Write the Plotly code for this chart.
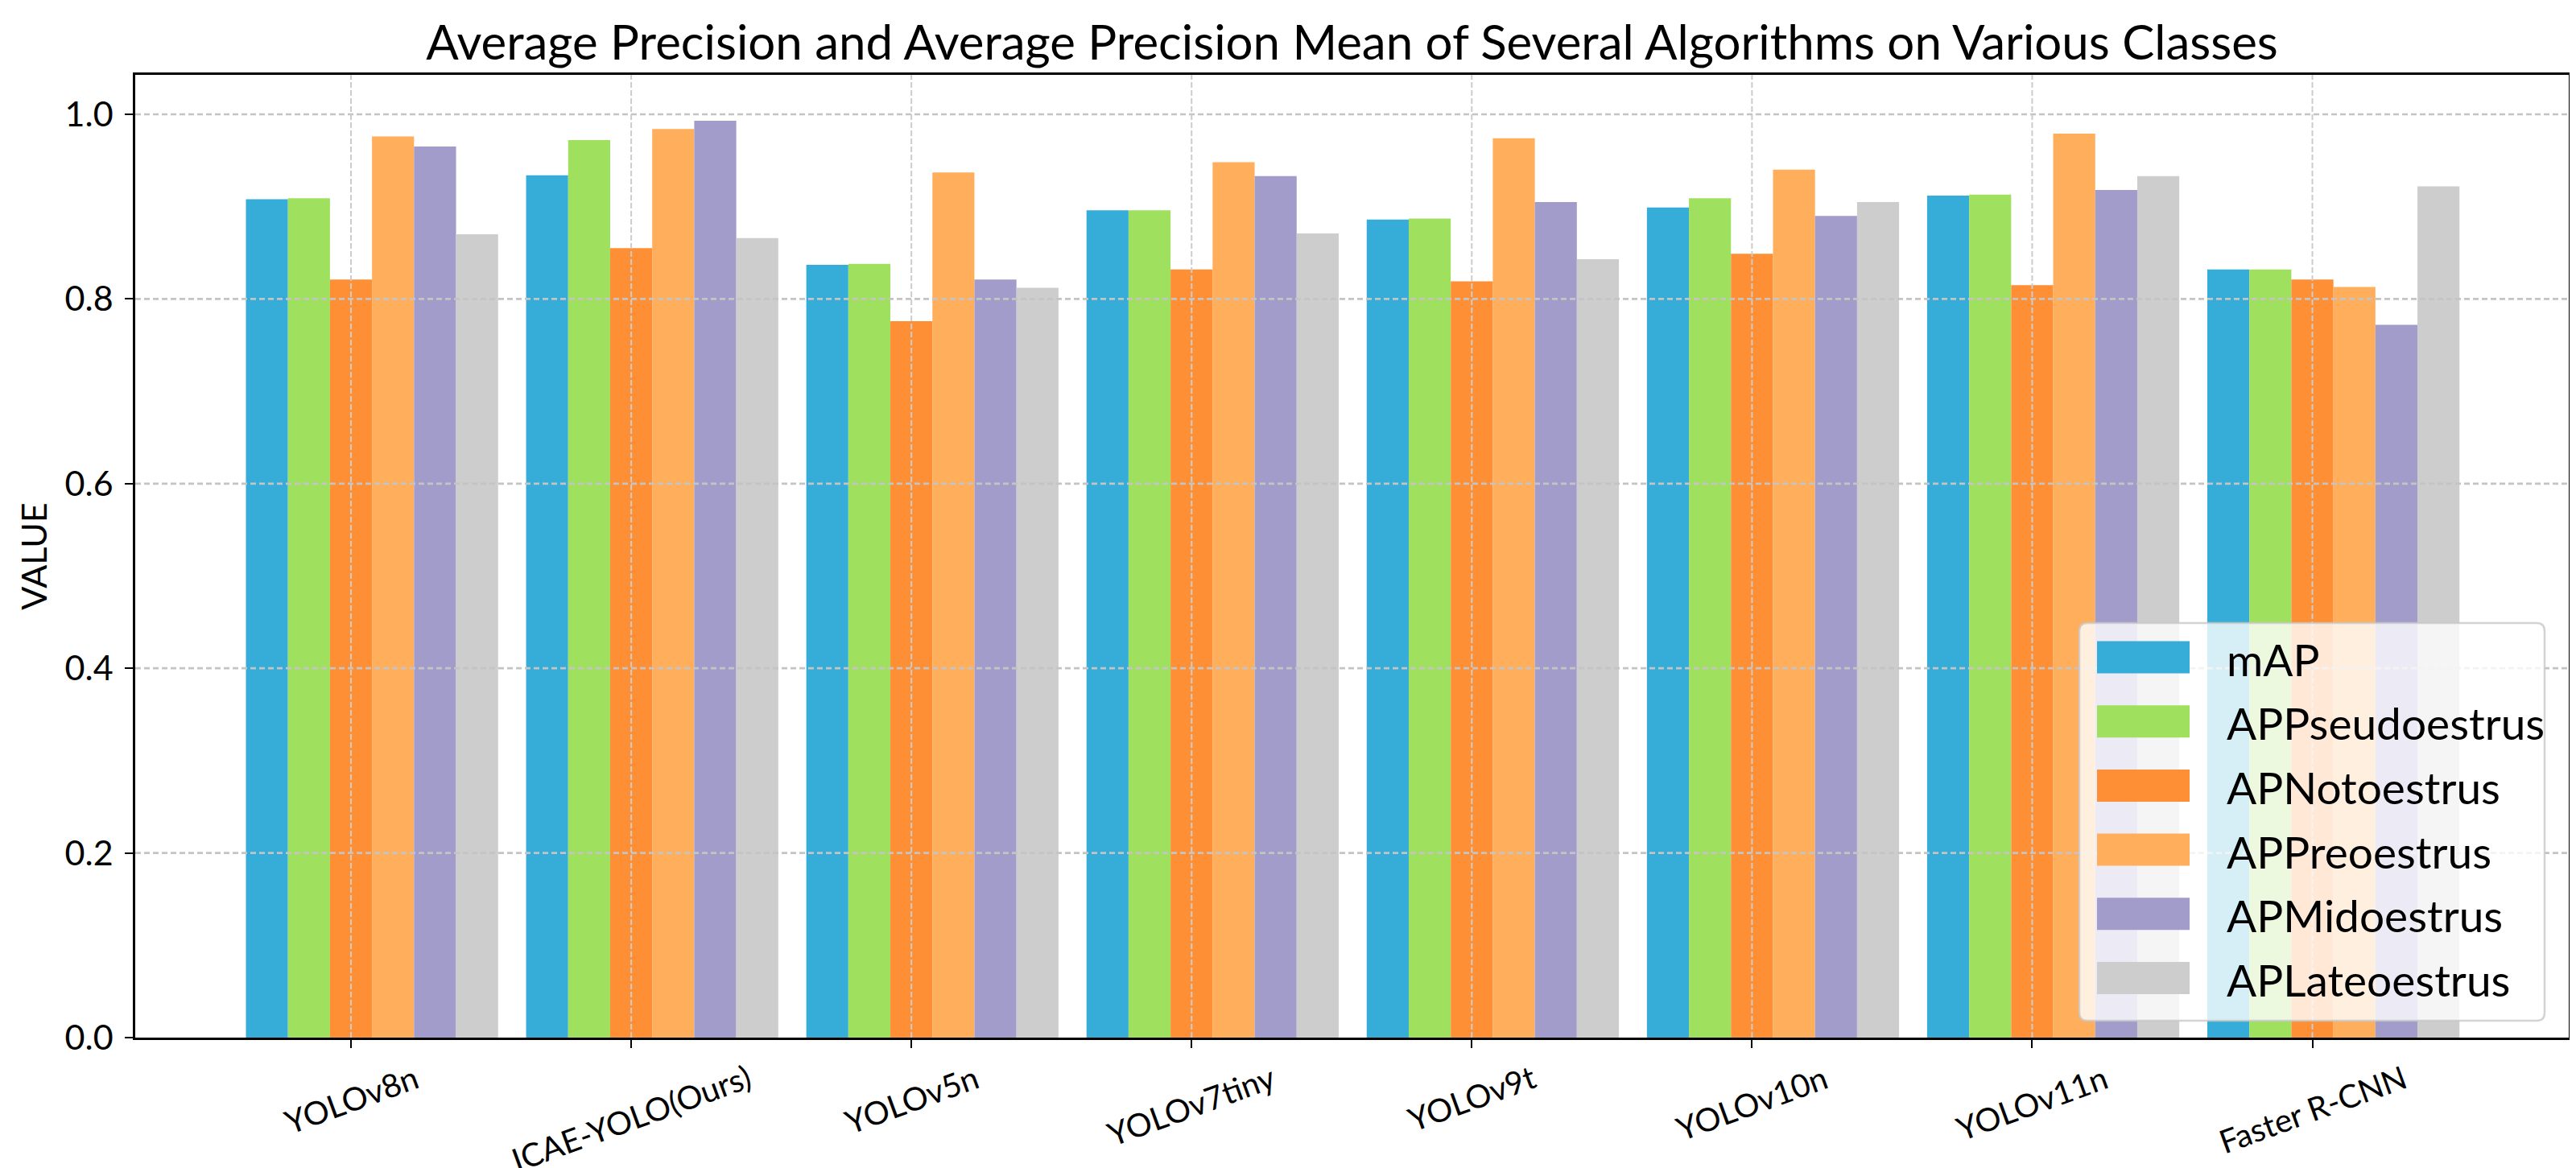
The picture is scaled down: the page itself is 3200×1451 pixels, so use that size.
import plotly.graph_objects as go

# ---------------- data ----------------
categories = ["YOLOv8n", "ICAE-YOLO(Ours)", "YOLOv5n", "YOLOv7tiny",
              "YOLOv9t", "YOLOv10n", "YOLOv11n", "Faster R-CNN"]
series_names = ["mAP", "APPseudoestrus", "APNotoestrus",
                "APPreoestrus", "APMidoestrus", "APLateoestrus"]
mAP = [0.908, 0.934, 0.837, 0.896, 0.886, 0.899, 0.912, 0.832]
APPseudoestrus = [0.909, 0.972, 0.838, 0.896, 0.887, 0.909, 0.913, 0.832]
APNotoestrus = [0.821, 0.855, 0.776, 0.832, 0.819, 0.849, 0.815, 0.821]
APPreoestrus = [0.976, 0.984, 0.937, 0.948, 0.974, 0.940, 0.979, 0.813]
APMidoestrus = [0.965, 0.993, 0.821, 0.933, 0.905, 0.890, 0.918, 0.772]
APLateoestrus = [0.870, 0.866, 0.812, 0.871, 0.843, 0.905, 0.933, 0.922]
y_ticks = [0.0, 0.2, 0.4, 0.6, 0.8, 1.0]

series_values = [mAP, APPseudoestrus, APNotoestrus, APPreoestrus, APMidoestrus, APLateoestrus]
colors = ["#35ADD8", "#A0E05F", "#FE8F34", "#FFAE5C", "#A29CCB", "#CDCDCD"]

FONT = "Lato"
W, H = 3200, 1451
L, R, T, B = 160, 3183, 85, 1281
PW, PH = R - L, B - T


def px(x):
    return (x - L) / PW


def py(y):
    return (B - y) / PH


idx = list(range(len(categories)))
bar_w = 0.15

fig = go.Figure()
for i, (name, vals, col) in enumerate(zip(series_names, series_values, colors)):
    fig.add_trace(go.Bar(
        x=idx, y=vals, name=name, width=bar_w,
        offset=(i - 2) * bar_w - bar_w / 2,
        marker=dict(color=col, line=dict(width=0)),
        showlegend=False,
    ))

shapes = []
# horizontal grid (drawn above bars, like the reference)
for v in y_ticks:
    if v == 0:
        continue
    shapes.append(dict(type="line", xref="paper", yref="y", x0=0, x1=1, y0=v, y1=v,
                       line=dict(color="#c4c4c4", width=2.7, dash="7px,4px"), layer="above"))
# vertical grid
for i in idx:
    shapes.append(dict(type="line", xref="x", yref="paper", x0=i, x1=i, y0=0, y1=1,
                       line=dict(color="#cccccc", width=2, dash="7px,3px"), layer="above"))

# custom legend (large patches like the reference)
lx0, lx1, ly0, ly1 = 2575, 3153, 766, 1260
r = 10
rx, ry = r / PW, r / PH
X0, X1, Y0, Y1 = px(lx0), px(lx1), py(ly1), py(ly0)
path = (f"M{X0+rx},{Y1} L{X1-rx},{Y1} Q{X1},{Y1} {X1},{Y1-ry} "
        f"L{X1},{Y0+ry} Q{X1},{Y0} {X1-rx},{Y0} L{X0+rx},{Y0} "
        f"Q{X0},{Y0} {X0},{Y0+ry} L{X0},{Y1-ry} Q{X0},{Y1} {X0+rx},{Y1} Z")
shapes.append(dict(type="path", xref="paper", yref="paper", path=path,
                   fillcolor="rgba(255,255,255,0.8)",
                   line=dict(color="rgba(200,200,200,0.8)", width=2.5), layer="above"))

annotations = []
row0, row_step = 808.5, 79.7
for i, (name, col) in enumerate(zip(series_names, colors)):
    cy = row0 + i * row_step
    shapes.append(dict(type="rect", xref="paper", yref="paper",
                       x0=px(2597), x1=px(2712), y0=py(cy + 20), y1=py(cy - 20),
                       fillcolor=col, line=dict(width=0), layer="above"))
    annotations.append(dict(xref="paper", yref="paper", x=px(2756), y=py(cy + 2),
                            xanchor="left", yanchor="middle", text=name, showarrow=False,
                            font=dict(family=FONT, size=55, color="black")))

# x tick labels (rotated, centered on tick like matplotlib)
for i, c in zip(idx, categories):
    annotations.append(dict(xref="x", yref="paper", x=i, y=py(1303),
                            xanchor="center", yanchor="top", text=c, textangle=-20,
                            showarrow=False, font=dict(family=FONT, size=40, color="black")))

fig.update_layout(
    width=W, height=H,
    margin=dict(l=L, r=W - R, t=T, b=H - B, autoexpand=False),
    paper_bgcolor="white", plot_bgcolor="white",
    barmode="overlay",
    title=dict(text="Average Precision and Average Precision Mean of Several Algorithms on Various Classes",
               x=0.5, xref="paper", xanchor="center",
               y=1 - 45 / H, yref="container", yanchor="middle",
               font=dict(family=FONT, size=60, color="black")),
    font=dict(family=FONT, color="black"),
    shapes=shapes,
    annotations=annotations,
    xaxis=dict(range=[-0.77, 7.915], tickvals=idx, ticktext=categories,
               showticklabels=False, showgrid=False, zeroline=False,
               showline=True, mirror=True, linecolor="black", linewidth=2.5,
               ticks="outside", ticklen=10, tickwidth=1.6, tickcolor="black"),
    yaxis=dict(range=[0, 1.0427], tickvals=y_ticks, tickformat=".1f",
               showgrid=False, zeroline=False,
               showline=True, mirror=True, linecolor="black", linewidth=2.5,
               ticks="outside", ticklen=10, tickwidth=1.6, tickcolor="black",
               tickfont=dict(family=FONT, size=43, color="black"), ticklabelstandoff=6,
               title=dict(text="VALUE", standoff=9, font=dict(family=FONT, size=43, color="black"))),
)

fig.write_html("out.html")
